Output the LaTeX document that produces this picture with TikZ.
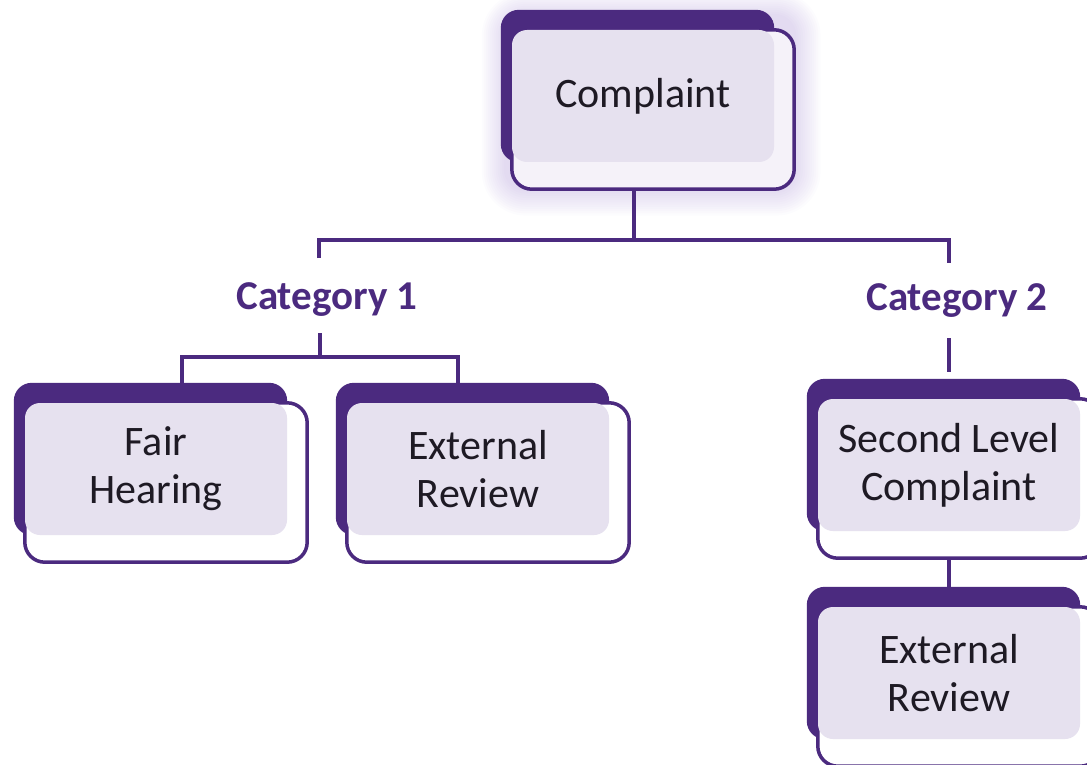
\documentclass[tikz,border=0pt]{standalone}
\usepackage{fontspec}
\setmainfont{Carlito}
\usepackage{tikz}
\usetikzlibrary{backgrounds}
\definecolor{StageDark}{HTML}{4B2A7F}
\definecolor{StageLight}{HTML}{E6E1EF}
\definecolor{StagePale}{HTML}{F5F2F9}
\definecolor{StageGlow}{HTML}{8F70C8}
\definecolor{StageInk}{HTML}{1E1A24}
\tikzset{
  stagebox/.style={
    fill=StageLight,
    rounded corners=15pt,
    minimum width=262pt,
    minimum height=132pt,
    inner sep=0pt,
    align=center,
    text=StageInk,
    font=\fontsize{42}{48}\selectfont
  },
  catlabel/.style={
    text=StageDark,
    font=\fontsize{41}{46}\selectfont\bfseries
  },
  stagelink/.style={draw=StageDark, line width=4pt}
}

\begin{document}
\begin{tikzpicture}[x=1pt,y=-1pt]
  \useasboundingbox (0,0) rectangle (1087,765);

  % boxes (the light face; the dark tab and the card go behind)
  \node[stagebox] (comp)   at (643,96)  {Complaint};
  \node[stagebox] (fair)   at (156,469) {Fair\\Hearing};
  \node[stagebox] (extA)   at (478,469) {External\\Review};
  \node[stagebox] (second) at (949,465) {Second Level\\Complaint};
  \node[stagebox] (extB)   at (949,673) {External\\Review};

  \node[catlabel] (cat1) at (327,300) {Category 1};
  \node[catlabel] (cat2) at (957,301) {Category 2};

  \begin{scope}[on background layer]
    % soft halo round the top box
    \foreach \g in {1,...,12}
      \fill[StageGlow, opacity=0.022, rounded corners=20pt+\g*2pt]
        ([shift={(-6-\g*2,-14-\g*2)}]comp.north west) rectangle
        ([shift={(20+\g*2.2,27+\g*2.2)}]comp.south east);
    \foreach \n/\c in {comp/StagePale,fair/white,extA/white,second/white,extB/white}{
      \fill[StageDark, rounded corners=18pt]
        ([shift={(-11,-20)}]\n.north west) rectangle (\n.south east);
      \draw[StageDark, line width=3.5pt, fill=\c, rounded corners=20pt]
        (\n.north west) rectangle ([shift={(20,27)}]\n.south east);
    }
  \end{scope}

  % connectors
  \coordinate (trunk) at (634,240);
  \coordinate (topL)  at (319,258);
  \coordinate (topR)  at (949,263);
  \coordinate (c1foot) at (320,333);
  \coordinate (c1bar)  at (320,357);
  \coordinate (c2foot) at (949,338);

  \draw[stagelink] ([shift={(-9,27)}]comp.south) -- (trunk);
  \draw[stagelink] (topL) |- (trunk) -| (topR);
  \draw[stagelink] (c1foot) -- (c1bar);
  \draw[stagelink] ([shift={(26,-20)}]fair.north) |- (c1bar)
    -| ([shift={(-20,-18)}]extA.north);
  \draw[stagelink] (c2foot) -- ([shift={(0,-27)}]second.north);
  \draw[stagelink] ([shift={(0,27)}]second.south) -- ([shift={(0,-20)}]extB.north);
\end{tikzpicture}
\end{document}
